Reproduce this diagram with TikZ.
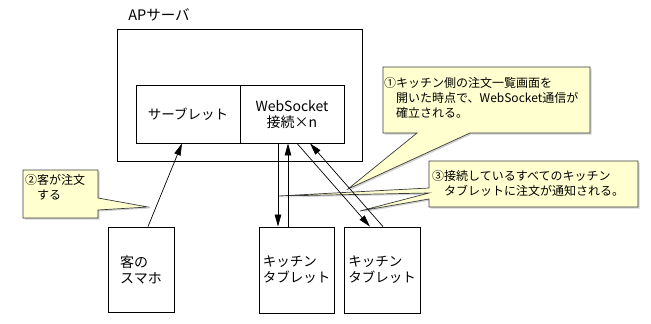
\documentclass[tikz,border=0pt]{standalone}
\usepackage{fontspec}
\setmainfont{Noto Sans CJK JP}
\usepackage{tikz}
\usetikzlibrary{arrows.meta, shadows}
\definecolor{notefill}{RGB}{255,255,208}
\definecolor{noteline}{RGB}{60,60,60}
\tikzset{
    box/.style={draw=black, line width=0.8pt, fill=white, inner sep=0pt, align=center, font=\fontsize{14}{16}\selectfont},
    flow/.style={-{Triangle[length=12pt,width=6.5pt]}, line width=0.7pt},
    note/.style={draw=noteline, fill=notefill, line width=0.7pt,
        drop shadow={shadow xshift=1.5pt, shadow yshift=-1.5pt, fill=black!35}},
    notetext/.style={anchor=north west, align=left, inner sep=0pt, font=\fontsize{12}{15}\selectfont}
}

\begin{document}
\begin{tikzpicture}[x=1pt, y=-1pt]
            \useasboundingbox (0,0) rectangle (651,324);

            % callouts (drawn first, connectors cross them)
            \coordinate (tip1) at (348,189);
            \coordinate (tip2) at (148,207);
            \coordinate (tip3a) at (278,196);
            \coordinate (tip3b) at (360,211);
            \path[note] (383,67) -- (590,67) -- (590,133) -- (470,133) -- (tip1)
                -- (417,133) -- (383,133) -- cycle;
            \path[note] (23,170) -- (98,170) -- (98,198) -- (tip2) -- (98,210)
                -- (98,218) -- (23,218) -- cycle;
            \path[note] (429,161) -- (638,161) -- (638,207) -- (429,207) -- (429,199)
                -- (tip3b) -- (429,193) -- (tip3a) -- (429,188) -- cycle;
            \node[notetext] (note1) at (384,77)
                {①キッチン側の注文一覧画面を\\\hspace*{1em}開いた時点で、WebSocket通信が\\\hspace*{1em}確立される。};
            \node[notetext] (note2) at (25,174) {②客が注文\\\hspace*{1em}する};
            \node[notetext] (note3) at (432,170)
                {③接続しているすべてのキッチン\\\hspace*{1em}タブレットに注文が通知される。};

            % AP server
            \node[box, minimum width=245pt, minimum height=132pt] (server) at (239.5,95) {};
            \node[font=\fontsize{14.5}{16}\selectfont, inner sep=0pt] (title) at (159,15) {APサーバ};
            \node[box, minimum width=104pt, minimum height=58pt, font=\fontsize{13.5}{16}\selectfont] (servlet) at (188,114) {サーブレット};
            \node[box, minimum width=104pt, minimum height=58pt] (ws) at (292,114) {WebSocket\\接続×n};

            % clients
            \node[box, minimum width=66pt, minimum height=85pt, align=left] (smaho) at (141,269.5) {客の\\スマホ};
            \node[box, minimum width=75pt, minimum height=86pt, align=left, font=\fontsize{13.5}{16}\selectfont] (tab1) at (296.5,270) {キッチン\\タブレット};
            \node[box, minimum width=76pt, minimum height=86pt, align=left, font=\fontsize{13.5}{16}\selectfont] (tab2) at (382,270) {キッチン\\タブレット};

            % connectors
            \draw[flow] ([xshift=7pt]smaho.north) -- ([xshift=-6pt]servlet.south);
            \draw[flow] ([xshift=-14pt]ws.south) -- ([xshift=-18.5pt]tab1.north);
            \draw[flow] ([xshift=-8.5pt]tab1.north) -- ([xshift=-4pt]ws.south);
            \draw[flow] ([xshift=5pt]ws.south) -- ([xshift=-12pt]tab2.north);
            \draw[flow] ([xshift=1pt]tab2.north) -- ([xshift=18pt]ws.south);
        \end{tikzpicture}
\end{document}
